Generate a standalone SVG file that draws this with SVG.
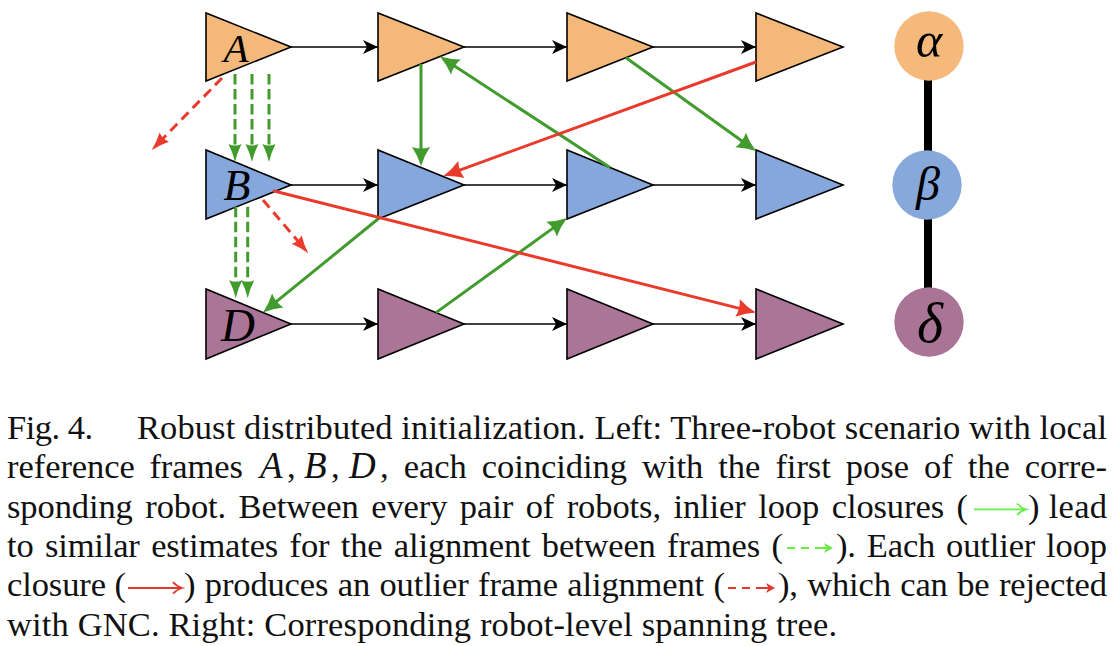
<svg xmlns="http://www.w3.org/2000/svg" width="1114" height="646" viewBox="0 0 1114 646">
<style>
.tri{stroke:#000;stroke-width:1.6;stroke-linejoin:miter}
.ta{fill:#f4b97a}.tb{fill:#85a7db}.td{fill:#ab7598}
.seq{stroke:#000;stroke-width:1.5;fill:none;marker-end:url(#hk)}
.gin{stroke:#419b2d;stroke-width:3;fill:none;marker-end:url(#hg)}
.rout{stroke:#ea3a2c;stroke-width:3;fill:none;marker-end:url(#hr)}
.gd{stroke:#419b2d;stroke-width:3;fill:none;stroke-dasharray:10.5 4.5;marker-end:url(#hgd)}
.rd{stroke:#ea3a2c;stroke-width:3;fill:none;stroke-dasharray:10 6;marker-end:url(#hrd)}
.lbl{font-style:italic;fill:#000;text-anchor:middle}
.cap{font-size:34.5px;fill:#111}
.it{font-style:italic;font-size:37px}
</style>
<defs>
<marker id="hk" markerUnits="userSpaceOnUse" overflow="visible" orient="auto" refX="0" refY="0"><path d="M0,0 L-15,-7 L-11,0 L-15,7 Z" fill="#000"/></marker>
<marker id="hg" markerUnits="userSpaceOnUse" overflow="visible" orient="auto" refX="0" refY="0"><path d="M10,0 Q0,-3 -9,-9 Q-6,0 -9,9 Q0,3 10,0 Z" fill="#419b2d"/></marker>
<marker id="hr" markerUnits="userSpaceOnUse" overflow="visible" orient="auto" refX="0" refY="0"><path d="M10,0 Q0,-3 -9,-9 Q-6,0 -9,9 Q0,3 10,0 Z" fill="#ea3a2c"/></marker>
<marker id="hgd" markerUnits="userSpaceOnUse" overflow="visible" orient="auto" refX="0" refY="0"><path d="M8,0 Q-1,-2 -10,-6.5 Q-7,0 -10,6.5 Q-1,2 8,0 Z" fill="#419b2d"/></marker>
<marker id="hrd" markerUnits="userSpaceOnUse" overflow="visible" orient="auto" refX="0" refY="0"><path d="M8,0 Q-1,-2 -10,-6.5 Q-7,0 -10,6.5 Q-1,2 8,0 Z" fill="#ea3a2c"/></marker>
</defs>
<rect width="1114" height="646" fill="#fff"/>

<g id="robotA">
<polygon class="tri ta" points="206,13 206,81 291,47"/>
<polygon class="tri ta" points="378,13 378,81 464,47"/>
<polygon class="tri ta" points="567,13 567,81 653,47"/>
<polygon class="tri ta" points="756,13 756,81 843,47"/>
</g>
<g id="robotB">
<polygon class="tri tb" points="206,150 206,219 291,185"/>
<polygon class="tri tb" points="378,150 378,219 464,185"/>
<polygon class="tri tb" points="567,150 567,219 653,185"/>
<polygon class="tri tb" points="756,150 756,219 843,185"/>
</g>
<g id="robotD">
<polygon class="tri td" points="206,289 206,359 291,324"/>
<polygon class="tri td" points="378,289 378,359 464,324"/>
<polygon class="tri td" points="567,289 567,359 653,324"/>
<polygon class="tri td" points="756,289 756,359 843,324"/>
</g>

<g id="connectors">
<line class="seq" x1="291" y1="47" x2="378" y2="47"/>
<line class="seq" x1="464" y1="47" x2="567" y2="47"/>
<line class="seq" x1="653" y1="47" x2="756" y2="47"/>
<line class="seq" x1="291" y1="185" x2="378" y2="185"/>
<line class="seq" x1="464" y1="185" x2="567" y2="185"/>
<line class="seq" x1="653" y1="185" x2="756" y2="185"/>
<line class="seq" x1="291" y1="324" x2="378" y2="324"/>
<line class="seq" x1="464" y1="324" x2="567" y2="324"/>
<line class="seq" x1="653" y1="324" x2="756" y2="324"/>

<line class="gin" x1="421" y1="64" x2="421" y2="156"/>
<line class="gin" x1="610" y1="167.5" x2="448.4" y2="62"/>
<line class="gin" x1="626" y1="57.7" x2="747.9" y2="145.2"/>
<line class="gin" x1="378" y1="219" x2="270.8" y2="306.2"/>
<line class="gin" x1="436" y1="312.6" x2="558.9" y2="223.9"/>

<line class="rout" x1="756" y1="62" x2="452.9" y2="172.6"/>
<line class="rout" x1="273" y1="190.7" x2="746.3" y2="310.1"/>

<line class="gd" x1="235" y1="74" x2="235" y2="154"/>
<line class="gd" x1="252" y1="74" x2="252" y2="154"/>
<line class="gd" x1="269" y1="74" x2="269" y2="154"/>
<line class="gd" x1="235.7" y1="206.7" x2="235.7" y2="290.3"/>
<line class="gd" x1="247.7" y1="206.7" x2="247.7" y2="290.3"/>

<line class="rd" x1="222" y1="78" x2="157.3" y2="144.3"/>
<line class="rd" x1="263" y1="200" x2="303.1" y2="247.2"/>
</g>

<g id="frame-labels" font-family="Liberation Serif, Times New Roman, serif">
<text class="lbl" x="236" y="62" font-size="41">A</text>
<text class="lbl" x="237" y="200" font-size="44">B</text>
<text class="lbl" x="238" y="341" font-size="47">D</text>
</g>

<g id="tree" font-family="Liberation Serif, Times New Roman, serif">
<line x1="928" y1="46" x2="928" y2="322" stroke="#000" stroke-width="8"/>
<g id="alpha"><circle cx="929" cy="46" r="34.7" fill="#f5b97c"/><text class="lbl" x="929" y="57" font-size="50">α</text></g>
<g id="beta"><circle cx="927" cy="185" r="34.7" fill="#86a8da"/><text class="lbl" x="928" y="200" font-size="48">β</text></g>
<g id="delta"><circle cx="929" cy="322" r="34.7" fill="#aa7497"/><text class="lbl" x="930" y="342" font-size="56">δ</text></g>
</g>

<g id="caption" class="cap" font-family="Liberation Serif, Times New Roman, serif">
<text x="7" y="439" textLength="86">Fig. 4.</text>
<text x="137" y="439" textLength="970">Robust distributed initialization. Left: Three-robot scenario with local</text>

<text x="7" y="478.3" textLength="236" word-spacing="6">reference frames</text>
<text x="260" y="478.3" class="it">A</text>
<text x="287" y="478.3">,</text>
<text x="304" y="478.3" class="it">B</text>
<text x="331" y="478.3">,</text>
<text x="349" y="478.3" class="it">D</text>
<text x="380" y="478.3" textLength="727" word-spacing="6.5">, each coinciding with the first pose of the corre-</text>

<text x="7" y="517.6" textLength="961" word-spacing="4">sponding robot. Between every pair of robots, inlier loop closures (</text>
<text x="1028" y="517.6" textLength="79">) lead</text>

<text x="7" y="556.9" textLength="776" word-spacing="3">to similar estimates for the alignment between frames (</text>
<text x="836" y="556.9" textLength="271" word-spacing="2.5">). Each outlier loop</text>

<text x="7" y="596.2" textLength="119">closure (</text>
<text x="184" y="596.2" textLength="541" word-spacing="1">) produces an outlier frame alignment (</text>
<text x="778" y="596.2" textLength="329" word-spacing="1">), which can be rejected</text>

<text x="7" y="635.5" textLength="830">with GNC. Right: Corresponding robot-level spanning tree.</text>
</g>

<g id="caption-symbols" fill="none" stroke-width="1.8">
<path d="M974,509.3 H1025" stroke="#66ee44"/>
<path d="M1017,503.5 Q1021,508 1026,509.3 Q1021,510.6 1017,515" stroke="#66ee44"/>
<path d="M787,548 H795 M801,548 H809 M815,548 H827" stroke="#66ee44" stroke-width="2"/>
<path d="M833,548 L824,543 L826.5,548 L824,553 Z" fill="#66ee44" stroke="none"/>
<path d="M128,588 H181" stroke="#e03a30"/>
<path d="M173,582.2 Q177,586.7 182,588 Q177,589.3 173,593.7" stroke="#e03a30"/>
<path d="M728,588 H736 M742,588 H750 M756,588 H769" stroke="#e03a30" stroke-width="2"/>
<path d="M775,588 L766,583 L768.5,588 L766,593 Z" fill="#e03a30" stroke="none"/>
</g>
</svg>
